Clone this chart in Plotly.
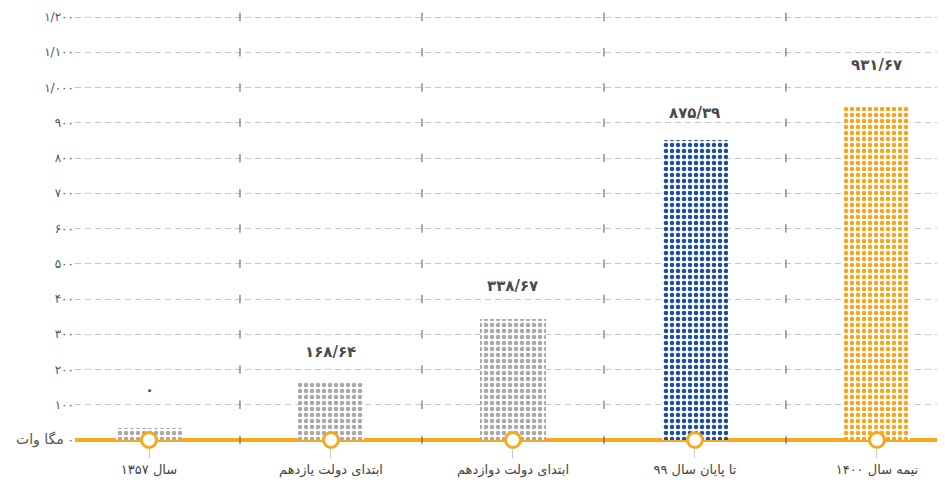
import plotly.graph_objects as go

categories = ["سال ۱۳۵۷", "ابتدای دولت یازدهم", "ابتدای دولت دوازدهم", "تا پایان سال ۹۹", "نیمه سال ۱۴۰۰"]
values = [34, 162, 343, 851, 945]
value_labels = ["۰", "۱۶۸/۶۴", "۳۳۸/۶۷", "۸۷۵/۳۹", "۹۳۱/۶۷"]
label_shift = [38, 31, 33, 27, 42]
bar_colors = ["#a9a9a9", "#a9a9a9", "#a9a9a9", "#1c4f9e", "#f9a51b"]
y_tickvals = [0, 100, 200, 300, 400, 500, 600, 700, 800, 900, 1000, 1100, 1200]
y_ticktext = ["<span style='font-size:14px'>مگا وات</span> \u200e۰", "۱۰۰", "۲۰۰", "۳۰۰", "۴۰۰", "۵۰۰", "۶۰۰", "۷۰۰", "۸۰۰", "۹۰۰", "۱/۰۰۰", "۱/۱۰۰", "۱/۲۰۰"]

ORANGE = "#f7a81b"
FONT = "DejaVu Sans"
idx = list(range(len(categories)))

fig = go.Figure()

# bars with dot pattern
fig.add_trace(go.Bar(
    x=idx, y=values, width=0.36,
    marker=dict(
        color="white",
        line=dict(width=0),
        pattern=dict(shape=".", fgcolor=bar_colors, bgcolor="white",
                     size=6, solidity=0.45, fillmode="replace"),
    ),
    hoverinfo="skip", showlegend=False,
))

# small vertical marks at category boundaries on every gridline
bx, by = [], []
for b in range(len(categories) - 1):
    for v in y_tickvals:
        bx.append(b + 0.5)
        by.append(v)
fig.add_trace(go.Scatter(
    x=bx, y=by, mode="markers",
    marker=dict(symbol="line-ns-open", size=6, color="#555555",
                line=dict(color="#555555", width=1)),
    hoverinfo="skip", showlegend=False, cliponaxis=False,
))

# baseline circles
fig.add_trace(go.Scatter(
    x=idx, y=[0] * len(idx), mode="markers",
    marker=dict(symbol="circle", size=15, color="white", line=dict(color=ORANGE, width=3)),
    hoverinfo="skip", showlegend=False, cliponaxis=False,
))

# value labels above bars
for i, (v, t, s) in enumerate(zip(values, value_labels, label_shift)):
    fig.add_annotation(x=i, y=v, text="<b>" + t + "</b>", showarrow=False, yshift=s,
                       font=dict(family=FONT, size=15, color="#4a4a4a"))

fig.update_layout(
    width=937, height=476,
    margin=dict(l=67, r=0, t=2, b=37, autoexpand=False),
    paper_bgcolor="white", plot_bgcolor="white",
    font=dict(family=FONT),
    bargap=0,
)
fig.update_xaxes(
    range=[-0.4066, 4.374], automargin=False,
    tickvals=idx, ticktext=categories,
    ticks="outside", ticklen=10, tickcolor="#c8c8c8", tickwidth=1,
    tickfont=dict(size=13, color="#444444"),
    showgrid=False, zeroline=False, showline=False,
)
fig.update_yaxes(
    range=[-19.86, 1219.9], automargin=False,
    tickvals=y_tickvals, ticktext=y_ticktext,
    tickfont=dict(size=12, color="#555555"),
    showgrid=True, gridcolor="#c8c8c8", griddash="6px,4px", gridwidth=1,
    zeroline=True, zerolinecolor=ORANGE, zerolinewidth=4,
    ticks="", showline=False,
)

fig.write_html("out.html")
